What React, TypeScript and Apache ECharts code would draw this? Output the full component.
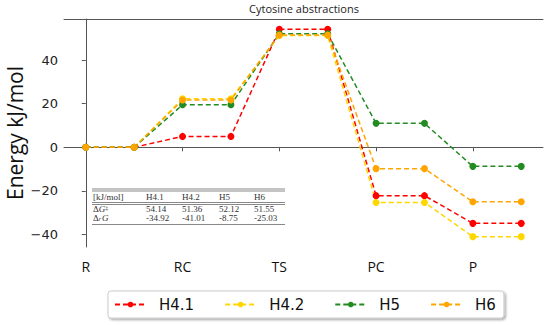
import React, { useEffect, useRef } from "react";
import * as echarts from "echarts";

const states = ["R", "RC", "TS", "PC", "P"];
const seriesNames = ["H4.1", "H4.2", "H5", "H6"];
const colors = ["#ff0000", "#ffd700", "#228b22", "#ffa500"];
const rValues = [0, 0, 0, 0];
const rcValues = [5.0, 22.3, 19.5, 21.7];
const tsValues = [54.14, 51.36, 52.12, 51.55];
const pcValues = [-22.2, -25.3, 11.0, -9.8];
const pValues = [-34.92, -41.01, -8.75, -25.03];
const yTicks = [-40, -20, 0, 20, 40];
const tableUnit = "[kJ/mol]";

export default function App() {
  const ref = useRef<HTMLDivElement>(null);
  useEffect(() => {
    if (!ref.current) return;
    const chart = echarts.init(ref.current, null, { renderer: "svg" });
    const stageValues = [rValues, rcValues, tsValues, pcValues, pValues];
    const series = seriesNames.map((name, i) => {
      const data: number[][] = [];
      stageValues.forEach((vals, s) => {
        data.push([s, vals[i]]);
        data.push([s + 0.5, vals[i]]);
      });
      return {
        name,
        type: "line",
        data,
        color: colors[i],
        symbol: "circle",
        symbolSize: 7,
        lineStyle: { width: 1.5, type: [5, 3], color: colors[i] },
        itemStyle: { color: colors[i] },
      };
    });

    const allVals = stageValues.flat();
    const dMin = Math.min(...allVals);
    const dMax = Math.max(...allVals);
    const pad = (dMax - dMin) * 0.05;
    const xPad = 4.5 * 0.05;

    const colX = [146, 182, 219, 254];
    const tableFont = "'Liberation Serif', 'DejaVu Serif', serif";
    const tColor = "#333";
    const lineColor = "#888";
    const graphics: any[] = [];
    const hline = (y: number) => ({
      type: "line",
      shape: { x1: 92, y1: y, x2: 285, y2: y },
      style: { stroke: lineColor, lineWidth: 1 },
    });
    graphics.push(hline(189), hline(191), hline(202.5), hline(204.5), hline(224.5));
    const txt = (x: number, y: number, t: string, extra: any = {}) => ({
      type: "text",
      x,
      y,
      style: {
        text: t,
        fill: tColor,
        font: `9px ${tableFont}`,
        verticalAlign: "middle",
        align: "left",
        ...extra,
      },
    });
    graphics.push(txt(93, 196.5, tableUnit));
    seriesNames.forEach((n, i) => graphics.push(txt(colX[i], 196.5, n)));
    graphics.push({
      type: "text",
      x: 93,
      y: 209,
      style: {
        text: "{a|Δ}{b|G}{c|‡}",
        verticalAlign: "middle",
        rich: {
          a: { font: `9px ${tableFont}`, fill: tColor },
          b: { font: `italic 9px ${tableFont}`, fill: tColor },
          c: { font: `6px ${tableFont}`, fill: tColor, verticalAlign: "top" },
        },
      },
    });
    graphics.push({
      type: "text",
      x: 93,
      y: 217.5,
      style: {
        text: "{a|Δ}{s|r}{b|G}",
        verticalAlign: "middle",
        rich: {
          a: { font: `9px ${tableFont}`, fill: tColor },
          s: { font: `italic 6px ${tableFont}`, fill: tColor, verticalAlign: "bottom" },
          b: { font: `italic 9px ${tableFont}`, fill: tColor, padding: [0, 0, 0, 1] },
        },
      },
    });
    tsValues.forEach((v, i) => graphics.push(txt(colX[i], 209, v.toFixed(2))));
    pValues.forEach((v, i) => graphics.push(txt(colX[i], 217.5, v.toFixed(2))));
    graphics.push({
      type: "text",
      x: 15,
      y: 133,
      rotation: Math.PI / 2,
      style: {
        text: "Energy kJ/mol",
        font: "21px 'Open Sans', sans-serif",
        fill: "#111",
        align: "center",
        verticalAlign: "middle",
      },
    });

    chart.setOption({
      animation: false,
      backgroundColor: "#ffffff",
      title: {
        text: "Cytosine abstractions",
        left: 304,
        top: 3,
        padding: 0,
        textAlign: "center",
        textStyle: {
          fontFamily: "'Open Sans', sans-serif",
          fontSize: 11,
          fontWeight: "normal",
          color: "#222",
        },
      },
      grid: { left: 64, right: 7, top: 19, bottom: 78, containLabel: false },
      xAxis: [
        {
          type: "value",
          min: -xPad,
          max: 4.5 + xPad,
          splitLine: { show: false },
          axisLine: { show: true, lineStyle: { color: "#555", width: 1 } },
          axisTick: {
            show: true,
            customValues: [0, 1, 2, 3, 4],
            length: 4,
            lineStyle: { color: "#555" },
          },
          axisLabel: {
            customValues: [0, 1, 2, 3, 4],
            formatter: (v: number) => states[Math.round(v)] ?? "",
            margin: 12,
            fontFamily: "'Open Sans', sans-serif",
            fontSize: 14,
            color: "#111",
          },
        },
        {
          type: "value",
          position: "top",
          min: -xPad,
          max: 4.5 + xPad,
          splitLine: { show: false },
          axisLine: { show: true, onZero: false, lineStyle: { color: "#555", width: 1 } },
          axisTick: { show: false },
          axisLabel: { show: false },
        },
      ],
      yAxis: {
        type: "value",
        min: dMin - pad,
        max: dMax + pad,
        splitLine: { show: false },
        axisLine: { show: true, lineStyle: { color: "#555", width: 1 } },
        axisTick: {
          show: true,
          customValues: yTicks,
          length: 4,
          lineStyle: { color: "#555" },
        },
        axisLabel: {
          customValues: yTicks,
          formatter: (v: number) => String(v).replace("-", "\u2212"),
          margin: 6,
          fontFamily: "'DejaVu Sans', sans-serif",
          fontSize: 13,
          color: "#222",
        },
      },
      legend: {
        data: seriesNames,
        left: 108,
        top: 291,
        orient: "horizontal",
        itemWidth: 31,
        itemHeight: 7,
        itemGap: 30,
        padding: [6, 8, 6, 6],
        backgroundColor: "#ffffff",
        borderColor: "#cccccc",
        borderWidth: 1,
        borderRadius: 3,
        shadowColor: "rgba(0,0,0,0.35)",
        shadowBlur: 2,
        shadowOffsetX: 1.5,
        shadowOffsetY: 1.5,
        textStyle: {
          fontFamily: "'DejaVu Sans', sans-serif",
          fontSize: 15,
          color: "#111",
          padding: [0, 0, 0, 8],
          lineHeight: 15,
        },
      },
      graphic: graphics,
      series,
    });
    return () => chart.dispose();
  }, []);
  return <div ref={ref} style={{ width: 550, height: 325, position: "absolute", left: 0, top: 0 }} />;
}
